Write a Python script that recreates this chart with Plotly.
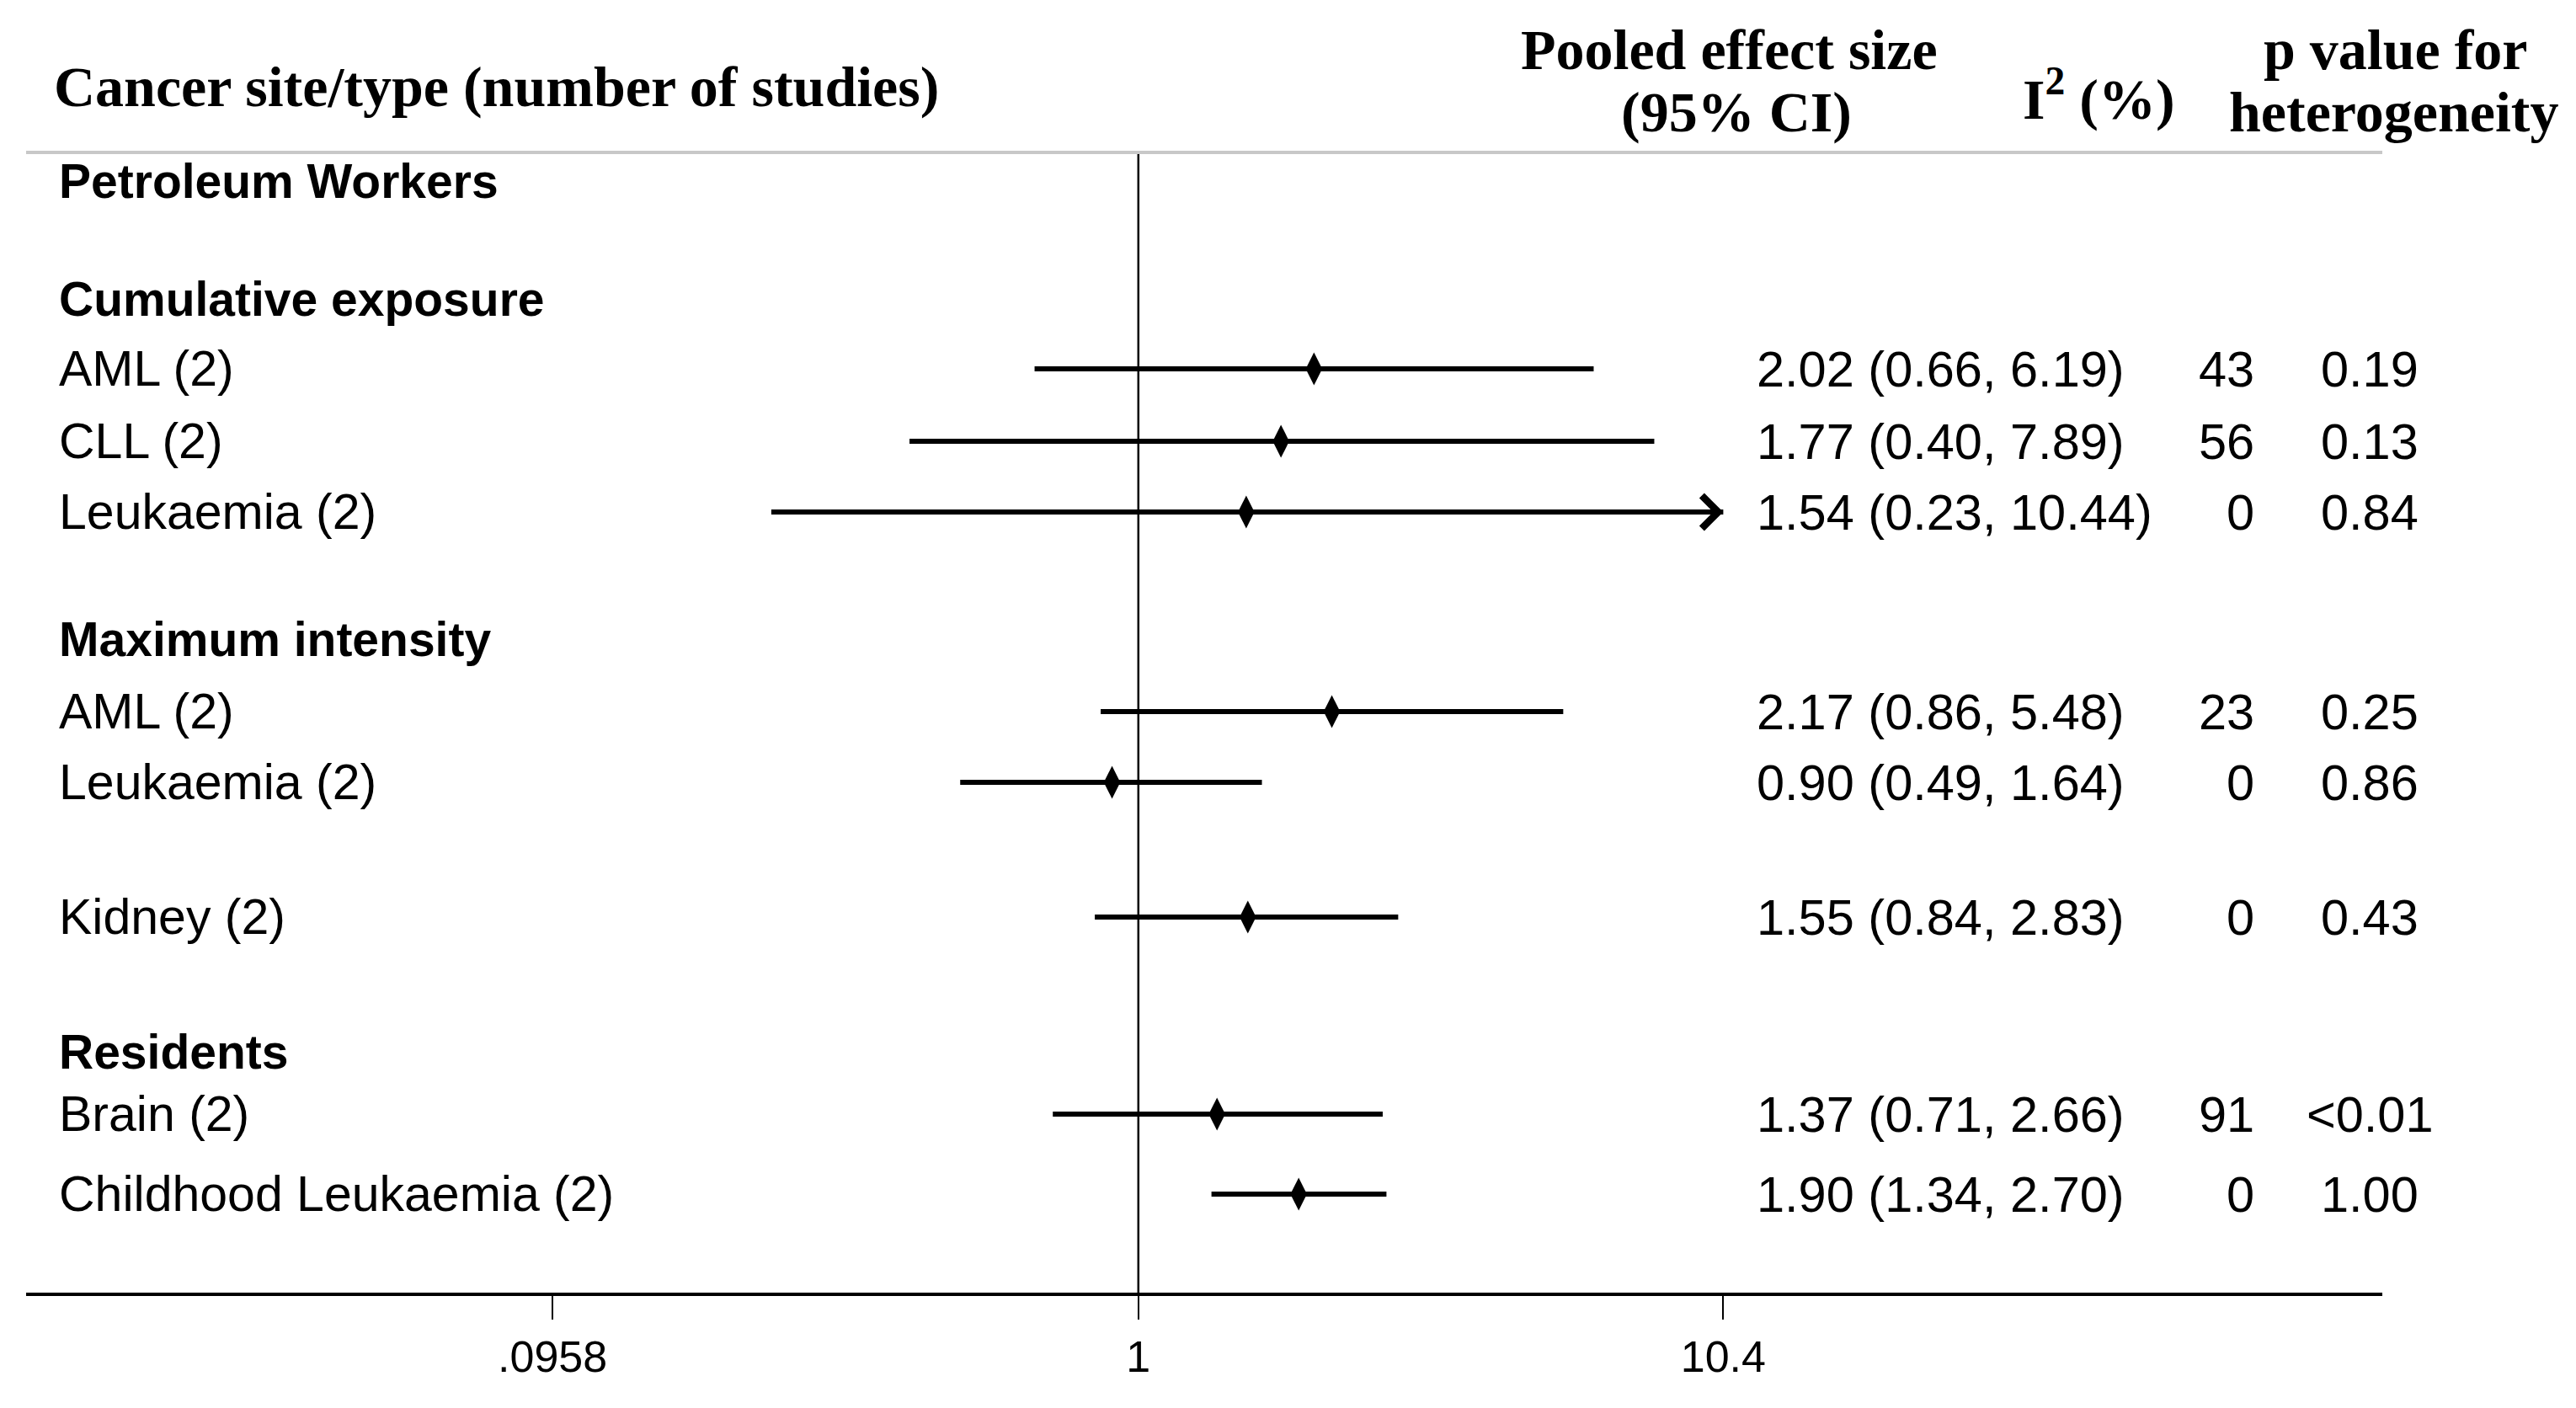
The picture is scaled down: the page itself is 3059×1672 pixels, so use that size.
import math
import plotly.graph_objects as go

# forest plot rows (pooled estimates)
labels = ["AML (2)", "CLL (2)", "Leukaemia (2)",
          "AML (2)", "Leukaemia (2)",
          "Kidney (2)",
          "Brain (2)", "Childhood Leukaemia (2)"]
effect = [2.02, 1.77, 1.54, 2.17, 0.90, 1.55, 1.37, 1.90]
ci_low = [0.66, 0.40, 0.23, 0.86, 0.49, 0.84, 0.71, 1.34]
ci_high = [6.19, 7.89, 10.44, 5.48, 1.64, 2.83, 2.66, 2.70]
i_squared = ["43", "56", "0", "23", "0", "0", "91", "0"]
p_het = ["0.19", "0.13", "0.84", "0.25", "0.86", "0.43", "<0.01", "1.00"]

sections = ["Petroleum Workers", "Cumulative exposure", "Maximum intensity", "Residents"]

tick_vals = [0.0958, 1, 10.4]
tick_text = [".0958", "1", "10.4"]

###############################
# Layout (pixel positions)
###############################
W, H = 3059, 1672
PLOT_L, PLOT_R = 31, 2829
AXIS_Y = 1535
HEADER_LINE_Y = 181
row_y = [438, 524, 608, 845, 929, 1089, 1323, 1418]
section_y = [215, 355, 759, 1249]
X_RANGE = [-1.934, 2.163]

SANS = "Liberation Sans, Arial, sans-serif"
SERIF = "Liberation Serif, Times New Roman, serif"


def paper_x(px):
    """Convert a pixel x position into paper coordinates."""
    return (px - PLOT_L) / (PLOT_R - PLOT_L)


fig = go.Figure()

# confidence intervals, cut at the last tick
x_max = tick_vals[-1]
ci_x, ci_y = [], []
for lo, hi, y in zip(ci_low, ci_high, row_y):
    ci_x += [lo, min(hi, x_max), None]
    ci_y += [y, y, None]
fig.add_trace(go.Scatter(x=ci_x, y=ci_y, mode='lines',
                         line=dict(color='black', width=6),
                         hoverinfo='skip', showlegend=False))

# line of no effect
fig.add_trace(go.Scatter(x=[1, 1], y=[HEADER_LINE_Y, AXIS_Y], mode='lines',
                         line=dict(color='black', width=2.5),
                         hoverinfo='skip', showlegend=False))

# point estimates
fig.add_trace(go.Scatter(x=effect, y=row_y, mode='markers',
                         marker=dict(symbol='diamond-tall', size=28, color='black'),
                         showlegend=False))

annotations = []

# arrows for intervals running off the scale
for hi, y in zip(ci_high, row_y):
    if hi > x_max:
        annotations.append(dict(x=math.log10(x_max), y=y, xref='x', yref='y',
                                text='', showarrow=True, ax=-60, ay=0,
                                arrowhead=4, arrowwidth=5, arrowsize=1.5,
                                arrowcolor='black'))

# header
headers = [
    ("<b>Cancer site/type (number of studies)</b>", 62, 103, 'left'),
    ("<b>Pooled effect size</b>", 2053, 59, 'center'),
    ("<b>(95% CI)</b>", 2062, 133, 'center'),
    ("<b>I<sup>2</sup> (%)</b>", 2492, 113, 'center'),
    ("<b>p value for</b>", 2845, 59, 'center'),
    ("<b>heterogeneity</b>", 2843, 133, 'center'),
]
for text, px, py, align in headers:
    annotations.append(dict(text=text, x=paper_x(px), y=py, xref='paper', yref='y',
                            xanchor=align, yanchor='middle', showarrow=False,
                            font=dict(family=SERIF, size=68, color='black')))

# section titles
for name, y in zip(sections, section_y):
    annotations.append(dict(text=f"<b>{name}</b>", x=paper_x(68), y=y, xref='paper', yref='y',
                            xanchor='left', yanchor='middle', showarrow=False,
                            font=dict(family=SANS, size=57, color='black')))

# row labels and statistics columns
for i, y in enumerate(row_y):
    label_font = dict(family=SANS, size=59, color='black')
    font = dict(family=SANS, size=59.5, color='black')
    annotations.append(dict(text=labels[i], x=paper_x(68), y=y, xref='paper', yref='y',
                            xanchor='left', yanchor='middle', showarrow=False,
                            font=label_font))
    es_text = f"{effect[i]:.2f} ({ci_low[i]:.2f}, {ci_high[i]:.2f})"
    annotations.append(dict(text=es_text, x=paper_x(2084), y=y, xref='paper', yref='y',
                            xanchor='left', yanchor='middle', showarrow=False, font=font))
    annotations.append(dict(text=i_squared[i], x=paper_x(2679), y=y, xref='paper', yref='y',
                            xanchor='right', yanchor='middle', showarrow=False, font=font))
    annotations.append(dict(text=p_het[i], x=paper_x(2814), y=y, xref='paper', yref='y',
                            xanchor='center', yanchor='middle', showarrow=False, font=font))

fig.update_layout(
    width=W, height=H,
    margin=dict(l=PLOT_L, r=W - PLOT_R, t=0, b=H - AXIS_Y),
    plot_bgcolor='white', paper_bgcolor='white',
    showlegend=False,
    annotations=annotations,
    shapes=[dict(type='line', xref='paper', yref='y', x0=0, x1=1,
                 y0=HEADER_LINE_Y, y1=HEADER_LINE_Y,
                 line=dict(color='#c8c8c8', width=4))],
    xaxis=dict(type='log', range=X_RANGE, showgrid=False, zeroline=False,
               showline=True, linecolor='black', linewidth=4,
               ticks='outside', ticklen=28, tickwidth=2, tickcolor='black',
               tickvals=tick_vals, ticktext=tick_text, ticklabelstandoff=0,
               tickfont=dict(family=SANS, size=52, color='black')),
    yaxis=dict(range=[AXIS_Y, 0], visible=False),
)

# page body margin would shift the figure
fig.write_html("out.html", config={'displayModeBar': False},
               post_script="document.body.style.margin = '0';")
